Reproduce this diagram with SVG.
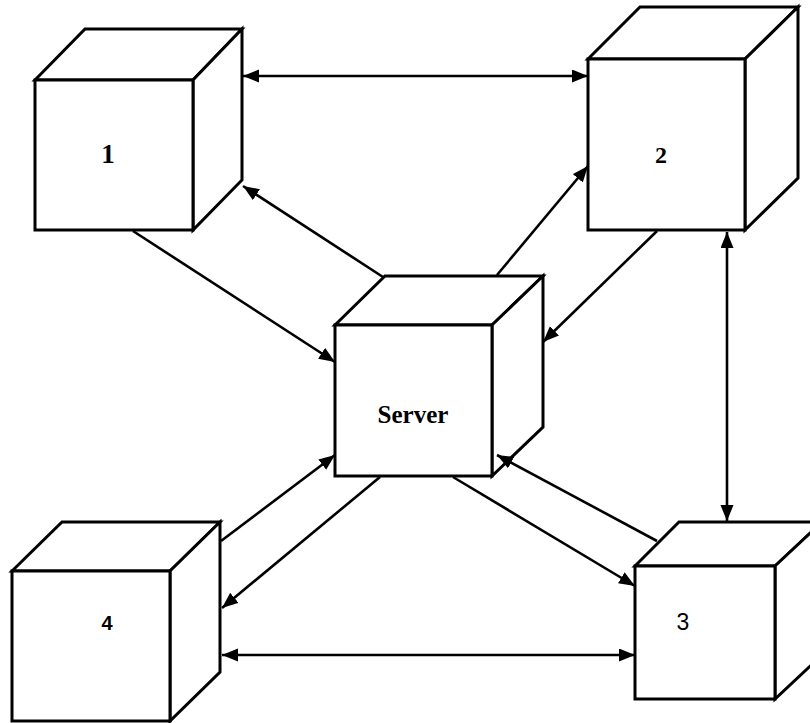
<svg xmlns="http://www.w3.org/2000/svg" width="810" height="723" viewBox="0 0 810 723">
<defs>
<style>
.cube path{fill:#fff;stroke:#000;stroke-width:3;stroke-linejoin:miter}
.conn line{stroke:#000;stroke-width:2.6}
.serif{font-family:"Liberation Serif","Times New Roman",serif;font-weight:bold;fill:#000}
.sans{font-family:"Liberation Sans",Arial,sans-serif;fill:#000}
</style>
<marker id="ah" markerUnits="userSpaceOnUse" markerWidth="18" markerHeight="14" refX="16" refY="6.5" orient="auto-start-reverse">
<path d="M0,0 L16,6.5 L0,13 z" fill="#000"/>
</marker>
</defs>
<rect width="810" height="723" fill="#fff"/>
<g id="node1" class="cube">
<path d="M35,80 L85,29 L242,29 L193,80 Z"/>
<path d="M193,80 L242,29 L242,180 L193,230 Z"/>
<path d="M35,80 H193 V230 H35 Z"/>
<text class="serif" x="108" y="163" font-size="27" text-anchor="middle">1</text>
</g>
<g id="node2" class="cube">
<path d="M588,59 L640,7 L798,7 L745,59 Z"/>
<path d="M745,59 L798,7 L798,178 L745,230 Z"/>
<path d="M588,59 H745 V230 H588 Z"/>
<text class="serif" x="661" y="163" font-size="24" text-anchor="middle">2</text>
</g>
<g id="server" class="cube">
<path d="M335,325 L385,276 L543,276 L492,325 Z"/>
<path d="M492,325 L543,276 L543,427 L492,476 Z"/>
<path d="M335,325 H492 V476 H335 Z"/>
<text class="serif" x="413" y="423" font-size="25" text-anchor="middle">Server</text>
</g>
<g id="node4" class="cube">
<path d="M12,571 L62,522 L220,522 L170,571 Z"/>
<path d="M170,571 L220,522 L220,672 L170,721 Z"/>
<path d="M12,571 H170 V721 H12 Z"/>
<text class="sans" x="107" y="630" font-size="20" font-weight="bold" text-anchor="middle">4</text>
</g>
<g id="node3" class="cube">
<path d="M635,566 L679,522 L822,522 L775,566 Z"/>
<path d="M775,566 L822,522 L822,655 L775,699 Z"/>
<path d="M635,566 H775 V699 H635 Z"/>
<text class="sans" x="683" y="630" font-size="23" text-anchor="middle">3</text>
</g>
<g id="connectors" class="conn">
<line x1="243" y1="76" x2="588" y2="76" marker-start="url(#ah)" marker-end="url(#ah)"/>
<line x1="383" y1="277" x2="243" y2="186" marker-end="url(#ah)"/>
<line x1="133" y1="231" x2="335" y2="362" marker-end="url(#ah)"/>
<line x1="497" y1="275" x2="588" y2="166" marker-end="url(#ah)"/>
<line x1="657" y1="231" x2="543" y2="342" marker-end="url(#ah)"/>
<line x1="727" y1="232" x2="727" y2="521" marker-start="url(#ah)" marker-end="url(#ah)"/>
<line x1="221" y1="541" x2="335" y2="455" marker-end="url(#ah)"/>
<line x1="380" y1="477" x2="222" y2="608" marker-end="url(#ah)"/>
<line x1="453" y1="477" x2="635" y2="586" marker-end="url(#ah)"/>
<line x1="657" y1="541" x2="497" y2="455" marker-end="url(#ah)"/>
<line x1="222" y1="655" x2="635" y2="655" marker-start="url(#ah)" marker-end="url(#ah)"/>
</g>
</svg>
